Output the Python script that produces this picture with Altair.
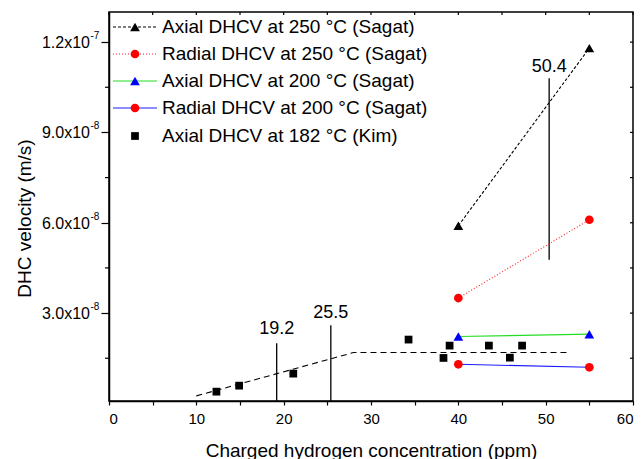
import altair as alt
import pandas as pd

# ---------------- data (velocities in units of 1e-8 m/s) ----------------
sagat_x = [40, 55]
axial250_y = [5.9, 11.8]
radial250_y = [3.5, 6.1]
axial200_y = [2.22, 2.3]
radial200_y = [1.3, 1.2]

kim_x = [12.3, 14.9, 21.1, 34.3, 38.3, 39.0, 43.5, 45.9, 47.3]
kim_y = [0.39, 0.59, 0.99, 2.12, 1.51, 1.92, 1.92, 1.52, 1.92]

fit_x = [10.0, 28.0, 52.7]
fit_y = [0.25, 1.69, 1.69]

ann_labels = ["19.2", "25.5", "50.4"]
ann_x = [19.2, 25.4, 50.4]
ann_y0 = [0.08, 0.08, 4.77]
ann_y1 = [2.0, 2.6, 10.8]
ann_text_y = [2.48, 3.0, 11.16]

x_tick_values = [0, 5, 10, 15, 20, 25, 30, 35, 40, 45, 50, 55, 60]
y_tick_values = [3, 6, 9, 12]
y_tick_mantissa = ["3.0x10", "6.0x10", "9.0x10", "1.2x10"]
y_tick_exponent = ["-8", "-8", "-8", "-7"]
y_minor_values = [1.5, 4.5, 7.5, 10.5]
y_right_values = [1.5, 3, 4.5, 6, 7.5, 9, 10.5, 12]

legend_labels = [
    "Axial DHCV at 250 °C (Sagat)",
    "Radial DHCV at 250 °C (Sagat)",
    "Axial DHCV at 200 °C (Sagat)",
    "Radial DHCV at 200 °C (Sagat)",
    "Axial DHCV at 182 °C (Kim)",
]

FONT = "Liberation Sans"
W, H = 524, 389

xscale = alt.Scale(domain=[0, 60], nice=False, zero=False)
yscale = alt.Scale(domain=[0.08, 13.0], nice=False, zero=False)

xaxis = alt.Axis(
    values=x_tick_values,
    labelExpr="datum.value % 10 == 0 ? datum.label : ''",
    format="d",
    tickSize=4,
    labelPadding=6,
    labelFontSize=15,
    grid=False,
    title="Charged hydrogen concentration (ppm)",
    titleFontSize=19,
    titleX=262,
    titleY=55,
    titleBaseline="alphabetic",
    titleAlign="center",
)
yaxis = alt.Axis(
    values=y_tick_values,
    labels=False,
    tickSize=8,
    grid=False,
    title="DHC velocity (m/s)",
    titleFontSize=19,
    titleX=-79,
    titleY=206,
    titleBaseline="alphabetic",
    titleAngle=-90,
)


def X(field="x"):
    return alt.X(f"{field}:Q", scale=xscale, axis=xaxis)


def Y(field="y"):
    return alt.Y(f"{field}:Q", scale=yscale, axis=yaxis)


layers = []

# Kim fit line (dashed)
fit_df = pd.DataFrame({"x": fit_x, "y": fit_y})
layers.append(
    alt.Chart(fit_df).mark_line(color="black", strokeDash=[6, 4], strokeWidth=1.1).encode(x=X(), y=Y())
)

# annotation lines + labels
ann_df = pd.DataFrame({"x": ann_x, "y0": ann_y0, "y1": ann_y1, "ty": ann_text_y, "label": ann_labels})
layers.append(
    alt.Chart(ann_df).mark_rule(color="black", strokeWidth=1.3).encode(
        x=X(), y=Y("y0"), y2=alt.Y2("y1:Q")
    )
)
layers.append(
    alt.Chart(ann_df).mark_text(font=FONT, fontSize=18, baseline="middle", align="center", color="black").encode(
        x=X(), y=Y("ty"), text="label:N"
    )
)

# Sagat series
series_specs = [
    (axial250_y, "black", [3, 2], "triangle-up", "black", 95),
    (radial250_y, "#ff2020", [1, 2], "circle", "#ff0000", 76),
    (axial200_y, "#22dd22", None, "triangle-up", "#0000ff", 95),
    (radial200_y, "#1a1aff", None, "circle", "#ff0000", 76),
]
for ys, lcol, dash, shape, mcol, msize in series_specs:
    df = pd.DataFrame({"x": sagat_x, "y": ys})
    if dash:
        line = alt.Chart(df).mark_line(color=lcol, strokeDash=dash, strokeWidth=1.1)
    else:
        line = alt.Chart(df).mark_line(color=lcol, strokeWidth=1.1)
    layers.append(line.encode(x=X(), y=Y()))
    layers.append(
        alt.Chart(df).mark_point(shape=shape, filled=True, color=mcol, opacity=1, size=msize).encode(x=X(), y=Y())
    )

# Kim points
kim_df = pd.DataFrame({"x": kim_x, "y": kim_y})
layers.append(
    alt.Chart(kim_df).mark_point(shape="square", filled=True, color="black", opacity=1, size=60).encode(x=X(), y=Y())
)

# minor / mirror ticks
top_df = pd.DataFrame({"x": x_tick_values})
layers.append(
    alt.Chart(top_df).mark_rule(color="black", strokeWidth=1.2).encode(x=X(), y=alt.value(0), y2=alt.value(3))
)
right_df = pd.DataFrame({"y": y_right_values})
layers.append(
    alt.Chart(right_df).mark_rule(color="black", strokeWidth=1.2).encode(y=Y(), x=alt.value(W), x2=alt.value(W - 3))
)
minor_df = pd.DataFrame({"y": y_minor_values})
layers.append(
    alt.Chart(minor_df).mark_rule(color="black", strokeWidth=1.2).encode(y=Y(), x=alt.value(0), x2=alt.value(-4))
)

# y tick labels with raised exponent
ylab_df = pd.DataFrame({"y": y_tick_values, "m": y_tick_mantissa, "e": y_tick_exponent})
layers.append(
    alt.Chart(ylab_df).mark_text(font=FONT, fontSize=16, align="right", baseline="middle", color="black", dy=1).encode(
        y=Y(), x=alt.value(-19), text="m:N"
    )
)
layers.append(
    alt.Chart(ylab_df).mark_text(font=FONT, fontSize=10, align="left", baseline="middle", color="black", dy=-6).encode(
        y=Y(), x=alt.value(-18.5), text="e:N"
    )
)

# manual legend
legend_rows_y = [15, 42, 69, 96, 124]
legend_styles = [
    ("black", [3, 2], "triangle-up", "black", 95),
    ("#ff2020", [1, 2], "circle", "#ff0000", 76),
    ("#22dd22", None, "triangle-up", "#0000ff", 95),
    ("#1a1aff", None, "circle", "#ff0000", 76),
    (None, None, "square", "black", 60),
]
for ly, lab, (lcol, dash, shape, mcol, msize) in zip(legend_rows_y, legend_labels, legend_styles):
    ldf = pd.DataFrame({"label": [lab]})
    if lcol is not None:
        if dash:
            r = alt.Chart(ldf).mark_rule(color=lcol, strokeDash=dash, strokeWidth=1.1)
        else:
            r = alt.Chart(ldf).mark_rule(color=lcol, strokeWidth=1.1)
        layers.append(r.encode(x=alt.value(4), x2=alt.value(48), y=alt.value(ly)))
    layers.append(
        alt.Chart(ldf).mark_point(shape=shape, filled=True, color=mcol, opacity=1, size=msize).encode(
            x=alt.value(26), y=alt.value(ly)
        )
    )
    layers.append(
        alt.Chart(ldf).mark_text(font=FONT, fontSize=19, align="left", baseline="middle", color="black").encode(
            x=alt.value(53), y=alt.value(ly), text="label:N"
        )
    )

chart = (
    alt.layer(*layers)
    .properties(
        width=W,
        height=H,
        autosize=alt.AutoSizeParams(type="none"),
        padding={"left": 109, "top": 12, "right": 9, "bottom": 58},
        background="white",
    )
    .configure_view(stroke="black", strokeWidth=1.5)
    .configure_axis(
        domainColor="black",
        domainWidth=1.5,
        tickColor="black",
        tickWidth=1.2,
        labelFont=FONT,
        labelColor="black",
        titleFont=FONT,
        titleFontWeight="normal",
        titleColor="black",
    )
)

chart.save("out.html", embed_options={"renderer": "svg", "actions": False})
